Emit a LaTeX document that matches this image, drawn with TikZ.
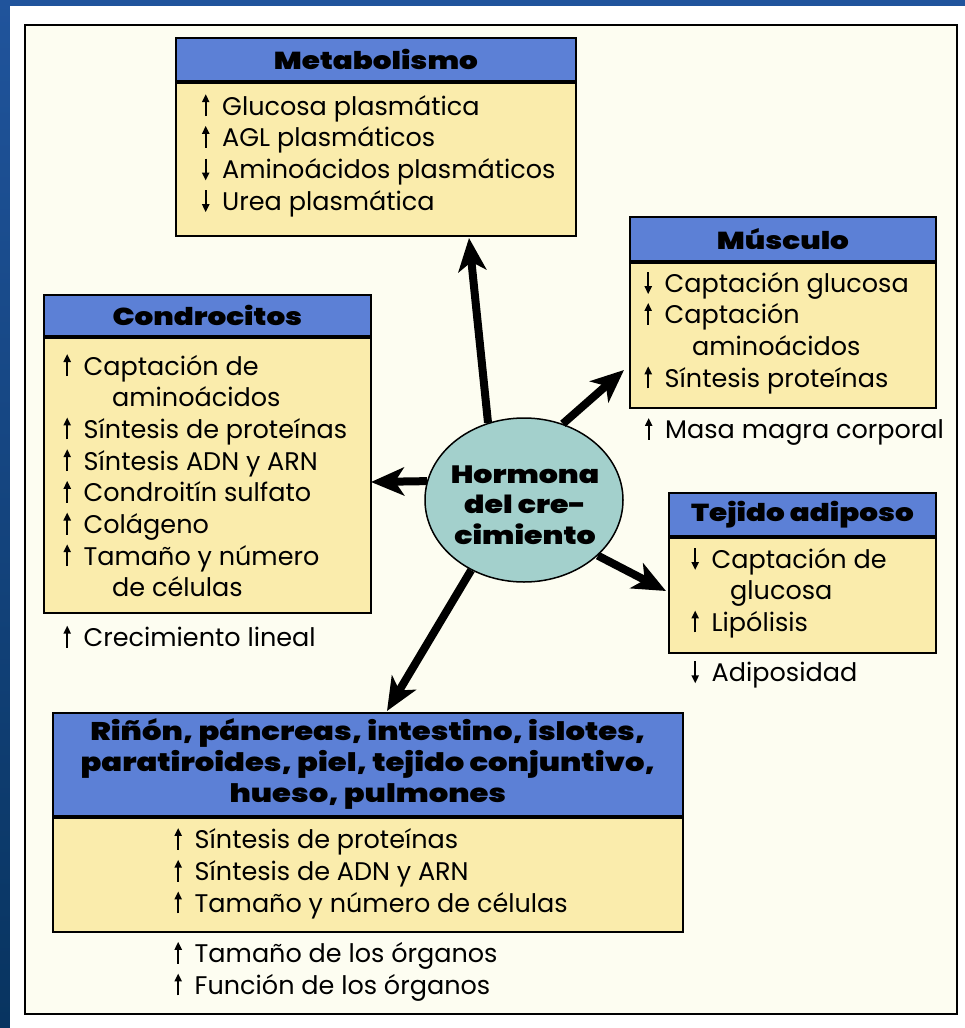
\documentclass[tikz,border=0pt]{standalone}
\usepackage{fontspec}
\setmainfont{Poppins}
\newfontfamily\hvy{Poppins Black}[FakeStretch=1.2]
\usetikzlibrary{shapes.geometric,arrows.meta}
\definecolor{bgtop}{RGB}{32,84,156}
\definecolor{bgbot}{RGB}{8,52,96}
\definecolor{cream}{RGB}{253,253,241}
\definecolor{hblue}{RGB}{92,128,214}
\definecolor{byellow}{RGB}{250,236,172}
\definecolor{cteal}{RGB}{163,208,204}
\newsavebox\upbox
\newsavebox\dnbox
\newcommand\ua{\usebox\upbox}
\newcommand\da{\usebox\dnbox}
\newcommand\glyphpic[2]{%
  \begin{pgfpicture}%
    \pgfsetbaseline{0pt}%
    \pgfpathrectangle{\pgfpoint{0pt}{0pt}}{\pgfpoint{20pt}{1pt}}\pgfusepath{use as bounding box}%
    \pgfsetlinewidth{2pt}%
    \pgfsetarrowsend{Triangle[length=8pt,width=7pt]}%
    \pgfpathmoveto{\pgfpoint{3.5pt}{#1}}%
    \pgfpathlineto{\pgfpoint{3.5pt}{#2}}%
    \pgfusepath{stroke}%
  \end{pgfpicture}}
\tikzset{
  hdr/.style={draw=black, line width=1.8pt, fill=hblue, anchor=north west, inner sep=0pt,
    font=\hvy\fontsize{24.5}{31}\selectfont, align=center},
  bodybox/.style={draw=black, line width=1.8pt, fill=byellow, anchor=north west, inner sep=0pt},
  txt/.style={anchor=west, inner sep=0pt, align=left, font=\fontsize{25.5}{31.7}\selectfont},
  bigarrow/.style={line width=8pt, -{Stealth[length=33pt,width=28pt,inset=9pt]}}
}
\begin{document}
\sbox\upbox{\glyphpic{-1pt}{21pt}}%
\sbox\dnbox{\glyphpic{20pt}{-2pt}}%
\begin{tikzpicture}[x=1pt,y=-1pt]
\useasboundingbox (0,0) rectangle (965,1028);
\shade[top color=bgtop, bottom color=bgbot] (0,0) rectangle (965,1028);
\fill[white] (10,6) rectangle (965,1028);
\draw[line width=2.2pt, fill=cream] (25,25) rectangle (957,1014);

% Metabolismo
\node[hdr, minimum width=400pt, minimum height=43pt] (metaH) at (175,37) {Metabolismo};
\node[bodybox, minimum width=400pt, minimum height=153pt] (metaB) at (metaH.south west) {};
\node[txt] (metaT) at (202,156) {\ua Glucosa plasmática\\\ua AGL plasmáticos\\\da Aminoácidos plasmáticos\\\da Urea plasmática};

% Condrocitos
\node[hdr, minimum width=327pt, minimum height=41pt] (condH) at (43,294) {Condrocitos};
\node[bodybox, minimum width=327pt, minimum height=275pt] (condB) at (condH.south west) {};
\node[txt] (condT) at (63.5,476) {\ua Captación de\\\hspace*{48.5pt}aminoácidos\\\ua Síntesis de proteínas\\\ua Síntesis ADN y ARN\\\ua Condroitín sulfato\\\ua Colágeno\\\ua Tamaño y número\\\hspace*{48.5pt}de células};
\node[txt] (condL) at (63.5,637) {\ua Crecimiento lineal};

% Musculo
\node[hdr, minimum width=306pt, minimum height=44pt] (muscH) at (629,216) {Músculo};
\node[bodybox, minimum width=306pt, minimum height=145pt] (muscB) at (muscH.south west) {};
\node[txt] (muscT) at (644.5,333) {\da Captación glucosa\\\ua Captación\\\hspace*{47.5pt}aminoácidos\\\ua Síntesis proteínas};
\node[txt] (muscL) at (645,433) {\ua Masa magra corporal};

% Tejido adiposo
\node[hdr, minimum width=267pt, minimum height=43pt] (tejH) at (668,492) {Tejido adiposo};
\node[bodybox, minimum width=267pt, minimum height=115pt] (tejB) at (tejH.south west) {};
\node[txt] (tejT) at (691.5,593) {\da Captación de\\\hspace*{38.5pt}glucosa\\\ua Lipólisis};
\node[txt] (tejL) at (691.5,675) {\da Adiposidad};

% Bottom box
\node[hdr, minimum width=630pt, minimum height=103pt, font=\hvy\fontsize{25.5}{31}\selectfont] (botH) at (52,712) {Riñón, páncreas, intestino, islotes,\\paratiroides, piel, tejido conjuntivo,\\hueso, pulmones};
\node[bodybox, minimum width=630pt, minimum height=114pt] (botB) at (botH.south west) {};
\node[txt] (botT) at (174.5,874) {\ua Síntesis de proteínas\\\ua Síntesis de ADN y ARN\\\ua Tamaño y número de células};
\node[txt] (botL) at (174.5,972) {\ua Tamaño de los órganos\\\ua Función de los órganos};

% Hormone ellipse
\node[ellipse, draw=black, line width=1.5pt, fill=cteal, minimum width=198pt, minimum height=164pt, inner sep=0pt] (gh) at (524,500) {};
\node[inner sep=0pt, align=center, font=\hvy\fontsize{25}{30.5}\selectfont] (ghT) at (525,505) {Hormona\\del cre-\\cimiento};

% arrow tips
\coordinate (tMeta) at (469,238);
\coordinate (tCond) at (371,482);
\coordinate (tMusc) at (624,370);
\coordinate (tTej) at (666,591);
\coordinate (tBot) at (387,711);

\draw[bigarrow] (gh.115) -- (tMeta);
\draw[bigarrow] (gh.169) -- (tCond);
\draw[bigarrow] (gh.63) -- (tMusc);
\draw[bigarrow] (gh.-37) -- (tTej);
\draw[bigarrow] (gh.233) -- (tBot);
\end{tikzpicture}
\end{document}
